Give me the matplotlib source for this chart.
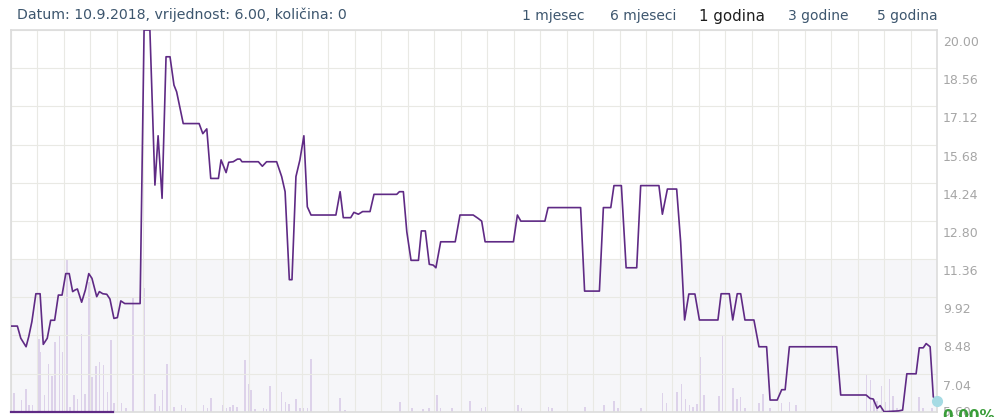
import numpy as np
import matplotlib.pyplot as plt
from matplotlib.ticker import MultipleLocator
from matplotlib.patches import Rectangle
from matplotlib.transforms import offset_copy

# Cijena dionice kroz zadnjih godinu dana (dan od početka perioda, vrijednost)
dan = [0, 2.4, 3.7, 5.7, 6.7, 7.9, 9.4, 11.0, 12.2, 13.7, 15.0, 16.5, 17.9, 19.3,
       20.7, 22.0, 23.3, 24.2, 25.1, 26.7, 28.1, 29.4, 30.6, 32.4, 33.4, 34.7,
       36.2, 37.4, 38.9, 40.2, 41.5, 43.0, 48.8, 50.3, 52.5, 54.4, 55.6, 57.1,
       58.6, 60.1, 61.6, 62.6, 65.1, 71.1, 72.5, 74.0, 75.5, 78.4, 79.4, 81.3,
       82.3, 84.0, 85.6, 86.6, 87.3, 93.5, 95.0, 96.6, 100.4, 102.3, 103.6,
       105.2, 106.2, 107.7, 109.2, 110.7, 112.0, 113.4, 122.8, 124.4, 125.6,
       128.4, 129.6, 131.3, 132.9, 135.7, 137.2, 145.8, 146.8, 148.3, 149.6,
       151.2, 154.0, 155.1, 156.6, 158.1, 159.6, 160.6, 162.4, 167.9, 169.7,
       174.7, 176.6, 177.9, 179.2, 189.9, 191.4, 192.7, 201.8, 203.0, 215.3,
       216.8, 222.4, 223.9, 226.7, 227.9, 230.7, 232.5, 236.5, 238.0, 244.9,
       246.2, 248.1, 251.6, 253.1, 254.6, 256.2, 258.5, 260.2, 267.2, 268.4,
       271.5, 272.8, 274.5, 275.8, 277.4, 280.8, 282.7, 285.6, 286.9, 289.6,
       291.3, 292.6, 294.2, 312.1, 313.6, 323.2, 324.7, 325.9, 327.4, 328.5,
       330.0, 335.4, 337.0, 338.6, 342.1, 343.3, 344.8, 345.9, 347.4, 348.6,
       349.9]
vrijednost = [8.83, 8.83, 8.37, 8.05, 8.43, 9.00, 10.05, 10.05, 8.14, 8.37, 9.05,
              9.05, 10.00, 10.00, 10.81, 10.81, 10.13, 10.19, 10.23, 9.73, 10.19,
              10.81, 10.63, 9.94, 10.13, 10.05, 10.03, 9.85, 9.12, 9.15, 9.78,
              9.68, 9.68, 20.00, 20.00, 14.15, 16.01, 13.65, 18.99, 18.99, 17.92,
              17.67, 16.47, 16.47, 16.09, 16.27, 14.40, 14.40, 15.10, 14.62,
              15.01, 15.03, 15.13, 15.13, 15.03, 15.03, 14.86, 15.03, 15.03,
              14.47, 13.90, 10.58, 10.58, 14.47, 15.10, 16.01, 13.33, 13.02,
              13.02, 13.90, 12.92, 12.92, 13.12, 13.05, 13.15, 13.15, 13.80,
              13.80, 13.90, 13.90, 12.39, 11.31, 11.31, 12.42, 12.42, 11.16,
              11.13, 11.03, 12.01, 12.01, 13.02, 13.02, 12.89, 12.79, 12.01,
              12.01, 13.02, 12.79, 12.79, 13.30, 13.30, 10.15, 10.15, 13.30,
              13.30, 14.13, 14.13, 11.03, 11.03, 14.13, 14.13, 13.05, 14.00,
              14.00, 12.01, 9.06, 10.04, 10.04, 9.06, 9.06, 10.05, 10.05, 9.06,
              10.05, 10.05, 9.06, 9.06, 8.05, 8.05, 6.04, 6.04, 6.43, 6.43,
              8.05, 8.05, 6.23, 6.23, 6.10, 6.08, 5.73, 5.83, 5.60, 5.63, 5.66,
              7.03, 7.03, 8.01, 8.01, 8.17, 8.05, 6.16, 6.00]

# Količina trgovanja po danima
dan_kol = [1.1, 4.0, 5.6, 6.9, 8.2, 10.6, 11.2, 12.6, 14.1, 15.4, 16.6, 18.3, 19.5,
           21.1, 22.3, 23.8, 25.1, 26.7, 28.0, 29.4, 30.7, 32.1, 33.4, 34.9, 36.4,
           37.8, 39.0, 40.3, 41.8, 43.4, 46.2, 50.3, 54.4, 56.1, 57.3, 58.9, 61.6,
           64.5, 66.0, 72.7, 74.2, 75.6, 80.0, 81.5, 82.8, 84.0, 85.5, 88.4, 89.7,
           90.7, 92.2, 95.4, 96.6, 97.9, 102.3, 103.8, 105.1, 107.7, 109.2, 110.5,
           112.0, 113.3, 124.4, 126.2, 147.0, 151.5, 155.8, 158.1, 161.1, 162.4,
           166.6, 173.5, 177.9, 179.4, 191.7, 193.0, 203.1, 204.4, 216.9, 224.1,
           228.0, 229.4, 238.1, 246.3, 247.8, 251.8, 253.5, 254.9, 256.4, 257.7,
           259.2, 260.4, 261.9, 267.5, 268.9, 273.0, 274.5, 275.8, 277.4, 282.8,
           284.3, 286.9, 291.3, 294.2, 296.7, 323.4, 324.9, 326.2, 327.4, 329.1,
           330.3, 332.0, 333.3, 334.8, 343.3, 344.6, 348.0]
kolicina = [183, 117, 223, 67, 67, 733, 600, 167, 483, 357, 700, 757, 600, 1533, 50,
            167, 123, 783, 177, 1300, 350, 457, 500, 467, 193, 723, 83, 90, 83, 40,
            1150, 1240, 177, 57, 217, 483, 50, 67, 33, 67, 33, 133, 67, 33, 43, 67,
            50, 517, 283, 217, 23, 33, 23, 257, 193, 100, 77, 127, 33, 33, 33, 533,
            133, 20, 93, 40, 27, 33, 167, 33, 33, 107, 33, 50, 67, 40, 50, 33, 50,
            67, 107, 33, 40, 183, 83, 200, 283, 127, 67, 50, 73, 550, 167, 160, 760,
            233, 127, 150, 40, 83, 173, 40, 83, 93, 67, 383, 317, 127, 107, 260, 100,
            327, 160, 40, 150, 40, 40]

y_oznake = np.linspace(5.60, 20.00, 11)
rasponi = ['1 mjesec', '6 mjeseci', '1 godina', '3 godine', '5 godina']
odabrani = '1 godina'
navigator = [0, 38.4]

ljubicasta = '#5f2a85'
W, H = 1000, 417

fig = plt.figure(figsize=(10, 4.17), dpi=100)
ax = fig.add_axes([11 / W, 1 - 411.7 / H, 926 / W, 381.7 / H])
ax_kol = ax.twinx()
ax.set_zorder(2)
ax_kol.set_zorder(1)
ax.patch.set_visible(False)

# pozadinski pojas donjeg dijela
ax_kol.add_patch(Rectangle((0, 5.60), 1, 11.36 - 5.60, transform=ax.get_yaxis_transform(),
                           facecolor='#f6f6f9', edgecolor='none', zorder=0))
ax_kol.bar(dan_kol, kolicina, width=0.6, color='#ddd2ea', zorder=1)
ax_kol.set_ylim(0, max(kolicina) / 0.4)
ax_kol.set_yticks([])
for s in ax_kol.spines.values():
    s.set_visible(False)

ax.plot(dan, vrijednost, color=ljubicasta, lw=1.2, zorder=3)
ax.plot(navigator, [5.60, 5.60], color=ljubicasta, lw=1.6, clip_on=False, zorder=4)
ax.plot(dan[-1], vrijednost[-1], 'o', color='#a6dbe4', ms=7, clip_on=False, zorder=5)

ax.set_xlim(0, 350)
ax.set_ylim(5.60, 20.00)
ax.xaxis.set_major_locator(MultipleLocator(10))
ax.set_yticks(y_oznake)
ax.grid(True, color='#e9e9e4', lw=0.8)
ax.tick_params(length=0, labelleft=False, labelbottom=False)
for s in ax.spines.values():
    s.set_color('#dcdcdc')
    s.set_linewidth(1.2)

# oznake y osi desno, ispod linije mreže
for v in y_oznake:
    dy = -12.5 if v > 5.61 else -1
    tr = offset_copy(ax.get_yaxis_transform(), fig=fig, x=6, y=dy, units='dots')
    ax.text(1.0, v, f'{v:.2f}', transform=tr, ha='left', va='center',
            fontsize=9, color='#a6a6a6', clip_on=False)

fig.text(942 / W, 1 - 421 / H, '0.00%', color='#3a9d3a', fontsize=11,
         fontweight='bold', va='baseline', ha='left')

fig.text(17 / W, 1 - 19.5 / H, 'Datum: 10.9.2018, vrijednost: 6.00, količina: 0',
         fontsize=10.2, color='#3d566e', va='baseline', ha='left')

centri = [553.5, 643.5, 732, 818, 907]
for r, cx in zip(rasponi, centri):
    if r == odabrani:
        fig.text(cx / W, 1 - 20.5 / H, r, fontsize=10.8, color='#1e1e1e',
                 ha='center', va='baseline')
    else:
        fig.text(cx / W, 1 - 20 / H, r, fontsize=10, color='#3d566e',
                 ha='center', va='baseline')

fig.savefig('out.png', dpi=100)
